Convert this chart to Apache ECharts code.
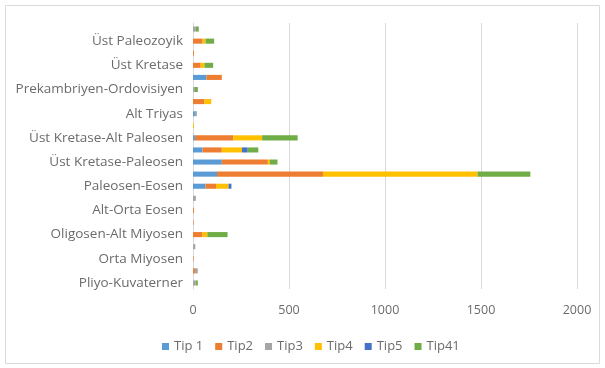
<!DOCTYPE html>
<html><head><meta charset="utf-8">
<script src="https://cdn.jsdelivr.net/npm/echarts@6/dist/echarts.min.js"></script>
<style>html,body{margin:0;padding:0;background:#fff}#c{width:605px;height:368px}</style>
</head><body><div id="c"></div>
<script>
// categories bottom to top
const categories = ['Pliyo-Kuvaterner','','Orta Miyosen','','Oligosen-Alt Miyosen','','Alt-Orta Eosen','','Paleosen-Eosen','','Üst Kretase-Paleosen','','Üst Kretase-Alt Paleosen','','Alt Triyas','','Prekambriyen-Ordovisiyen','','Üst Kretase','','Üst Paleozoyik',''];
const seriesNames = ['Tip 1','Tip2','Tip3','Tip4','Tip5','Tip41'];
const tip1  = [0,0,0,0,0,0,0,0,65,125,150,50,10,0,10,0,0,70,0,0,0,0];
const tip2  = [0,10,3,0,50,3,5,0,55,552,240,100,200,0,0,60,0,80,40,5,50,0];
const tip3  = [15,15,0,12,0,0,0,15,0,0,0,0,0,0,10,0,10,0,0,0,0,15];
const tip4  = [0,0,0,0,25,0,0,0,65,805,10,105,150,5,0,35,0,0,20,0,15,0];
const tip5  = [0,0,0,0,0,0,0,0,15,0,0,30,0,0,0,0,0,0,0,0,0,0];
const tip41 = [10,0,0,0,105,0,0,0,0,275,40,55,185,0,0,0,15,0,45,0,45,15];
const xTicks = [0,500,1000,1500,2000];

const colors = ['#5B9BD5','#ED7D31','#A5A5A5','#FFC000','#4472C4','#70AD47'];
const values = [tip1,tip2,tip3,tip4,tip5,tip41];
const font = '"Open Sans", sans-serif';
const chart = echarts.init(document.getElementById('c'));
chart.setOption({
  animation:false,
  color: colors,
  graphic:[{type:'rect',shape:{x:5.5,y:5.5,width:594,height:358},style:{fill:'none',stroke:'#D9D9D9',lineWidth:1},silent:true}],
  grid:{left:193,right:28,top:23,bottom:79,containLabel:false},
  legend:{data:seriesNames,bottom:10,left:157,itemWidth:7,itemHeight:7,itemGap:12,icon:'rect',
    textStyle:{color:'#6b6b6b',fontSize:13,fontFamily:font}},
  xAxis:{type:'value',min:xTicks[0],max:xTicks[xTicks.length-1],interval:500,
    axisLine:{show:false},axisTick:{show:false},
    splitLine:{lineStyle:{color:'#D9D9D9'}},
    axisLabel:{color:'#6b6b6b',fontSize:12.5,fontFamily:font,margin:15,formatter:v=>String(v)}},
  yAxis:{type:'category',data:categories,
    axisLine:{lineStyle:{color:'#D9D9D9'}},axisTick:{show:false},
    axisLabel:{interval:1,color:'#6b6b6b',fontSize:13.5,fontFamily:font,margin:10}},
  series: seriesNames.map((n,i)=>({name:n,type:'bar',stack:'a',data:values[i],barCategoryGap:'58%'}))
});
</script></body></html>
